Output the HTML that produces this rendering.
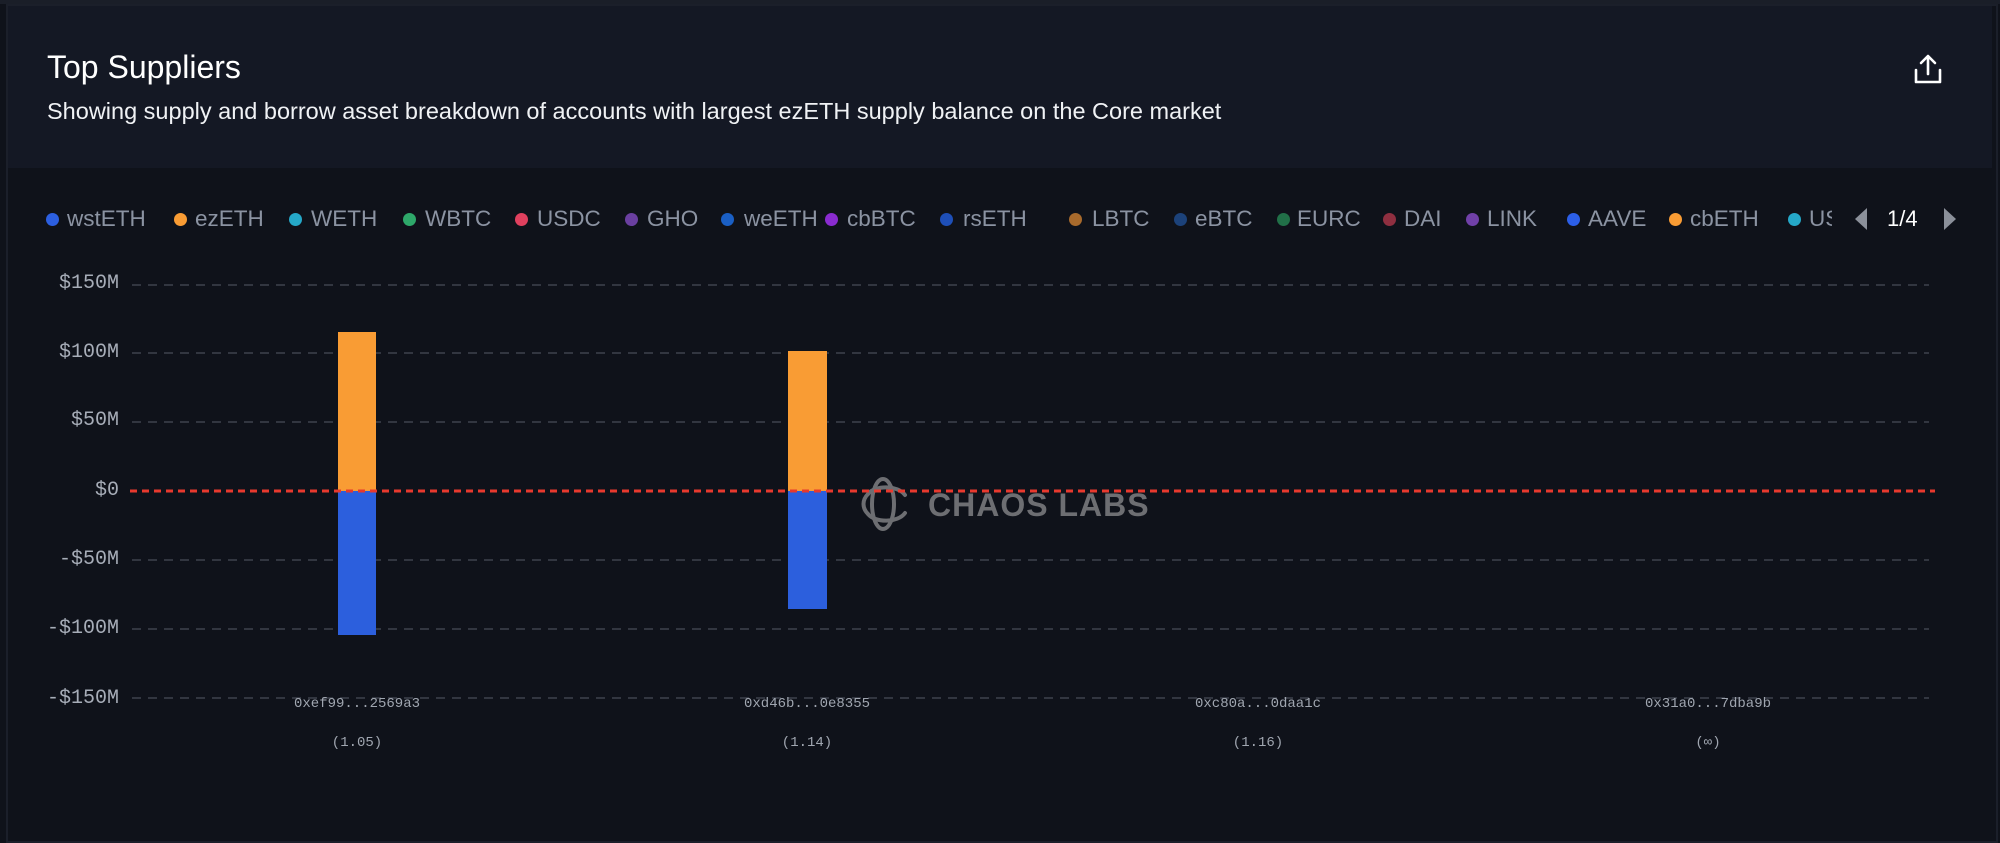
<!DOCTYPE html>
<html><head><meta charset="utf-8"><style>
html,body{margin:0;padding:0;width:2000px;height:843px;background:#0f121a;overflow:hidden;font-family:"Liberation Sans",sans-serif}
.card{position:absolute;left:6px;top:4px;width:1988px;height:835px;border:2px solid #1b1f2a;background:#0f121a}
.outer{position:absolute;left:0;top:0;width:2000px;height:4px;background:#1a1e28}
.hdr{position:absolute;left:8px;top:6px;width:1984px;height:162px;background:#141824}
.t{position:absolute;left:47px;top:49px;font-size:32px;color:#fff;font-weight:500}
.s{position:absolute;left:47px;top:98px;font-size:23.5px;color:#f0f2f5}
.lg{position:absolute;top:206px;font-size:22.5px;color:#8b93a2;white-space:nowrap}
.dot{position:absolute;top:213px;width:13px;height:13px;border-radius:50%}
.yl{position:absolute;right:1881px;font-family:"Liberation Mono",monospace;font-size:20px;color:#a7adb8;text-align:right}
.xl{position:absolute;font-family:"Liberation Mono",monospace;font-size:14px;color:#a0a6b0;transform:translateX(-50%);white-space:nowrap}
</style></head><body>
<div class="outer"></div>
<div class="card"></div>
<div class="hdr"></div>
<div class="t">Top Suppliers</div>
<div class="s">Showing supply and borrow asset breakdown of accounts with largest ezETH supply balance on the Core market</div>
<svg style="position:absolute;left:1912px;top:52px" width="32" height="34" viewBox="0 0 32 34"><path d="M16 4V22M9 11L16 4L23 11" stroke="#fff" stroke-width="2.6" fill="none" stroke-linecap="round" stroke-linejoin="round"/><path d="M4 18V30H28V18" stroke="#fff" stroke-width="2.6" fill="none" stroke-linecap="round" stroke-linejoin="round"/></svg>

<div style="position:absolute;left:0;top:190px;width:1832px;height:60px;overflow:hidden">
<div class="dot" style="left:46px;top:23px;background:#2c5fe0"></div><div class="lg" style="left:67px;top:16px">wstETH</div>
<div class="dot" style="left:174px;top:23px;background:#f99c34"></div><div class="lg" style="left:195px;top:16px">ezETH</div>
<div class="dot" style="left:289px;top:23px;background:#25a8c8"></div><div class="lg" style="left:311px;top:16px">WETH</div>
<div class="dot" style="left:403px;top:23px;background:#2ea86a"></div><div class="lg" style="left:425px;top:16px">WBTC</div>
<div class="dot" style="left:515px;top:23px;background:#e0405e"></div><div class="lg" style="left:537px;top:16px">USDC</div>
<div class="dot" style="left:625px;top:23px;background:#6a3fa0"></div><div class="lg" style="left:647px;top:16px">GHO</div>
<div class="dot" style="left:721px;top:23px;background:#1a5fc4"></div><div class="lg" style="left:744px;top:16px">weETH</div>
<div class="dot" style="left:825px;top:23px;background:#8a2bd0"></div><div class="lg" style="left:847px;top:16px">cbBTC</div>
<div class="dot" style="left:940px;top:23px;background:#1e4fb8"></div><div class="lg" style="left:963px;top:16px">rsETH</div>
<div class="dot" style="left:1069px;top:23px;background:#a86a2c"></div><div class="lg" style="left:1092px;top:16px">LBTC</div>
<div class="dot" style="left:1174px;top:23px;background:#1c427a"></div><div class="lg" style="left:1195px;top:16px">eBTC</div>
<div class="dot" style="left:1277px;top:23px;background:#217048"></div><div class="lg" style="left:1297px;top:16px">EURC</div>
<div class="dot" style="left:1383px;top:23px;background:#8f2f40"></div><div class="lg" style="left:1404px;top:16px">DAI</div>
<div class="dot" style="left:1466px;top:23px;background:#7040a8"></div><div class="lg" style="left:1487px;top:16px">LINK</div>
<div class="dot" style="left:1567px;top:23px;background:#2c5fe8"></div><div class="lg" style="left:1588px;top:16px">AAVE</div>
<div class="dot" style="left:1669px;top:23px;background:#f99c34"></div><div class="lg" style="left:1690px;top:16px">cbETH</div>
<div class="dot" style="left:1788px;top:23px;background:#25a8c8"></div><div class="lg" style="left:1809px;top:16px">US</div>
</div>
<svg style="position:absolute;left:1853px;top:207px" width="16" height="24"><path d="M14 1L2 12L14 23Z" fill="#8b909a"/></svg>
<div style="position:absolute;left:1887px;top:206px;font-size:22px;color:#fff">1/4</div>
<svg style="position:absolute;left:1942px;top:207px" width="16" height="24"><path d="M2 1L14 12L2 23Z" fill="#8b909a"/></svg>

<div class="yl" style="top:272px">$150M</div>
<div class="yl" style="top:341px">$100M</div>
<div class="yl" style="top:409px">$50M</div>
<div class="yl" style="top:479px">$0</div>
<div class="yl" style="top:548px">-$50M</div>
<div class="yl" style="top:617px">-$100M</div>
<div class="yl" style="top:687px">-$150M</div>

<svg style="position:absolute;left:0;top:0" width="2000" height="843">
<g stroke="#474c57" stroke-width="1.3" stroke-dasharray="9 7">
<line x1="132" y1="285" x2="1929" y2="285"/>
<line x1="132" y1="353" x2="1929" y2="353"/>
<line x1="132" y1="422" x2="1929" y2="422"/>
<line x1="132" y1="560" x2="1929" y2="560"/>
<line x1="132" y1="629" x2="1929" y2="629"/>
<line x1="132" y1="698" x2="1929" y2="698"/>
</g>
<rect x="338" y="332" width="38" height="159" fill="#f99c34"/>
<rect x="338" y="491" width="38" height="144" fill="#2c5fdd"/>
<rect x="788" y="351" width="39" height="140" fill="#f99c34"/>
<rect x="788" y="491" width="39" height="118" fill="#2c5fdd"/>
<g fill="none" stroke="#6d6e72" stroke-width="4" stroke-linecap="round">
<ellipse cx="883" cy="504" rx="11" ry="25"/>
<path d="M905 495C898 485 875 485 868 494M905 513C898 523 875 523 868 514"/>
<path d="M868 494C862 500 862 508 868 514"/>
</g>
<text x="928" y="516" font-family="Liberation Sans" font-weight="bold" font-size="32" fill="#6d6e72" letter-spacing="1">CHAOS LABS</text>
<line x1="130" y1="491" x2="1935" y2="491" stroke="#e8392e" stroke-width="3" stroke-dasharray="7 5"/>
</svg>

<div class="xl" style="left:357px;top:696px">0xef99...2569a3</div>
<div class="xl" style="left:357px;top:735px">(1.05)</div>
<div class="xl" style="left:807px;top:696px">0xd46b...0e8355</div>
<div class="xl" style="left:807px;top:735px">(1.14)</div>
<div class="xl" style="left:1258px;top:696px">0xc80a...0daa1c</div>
<div class="xl" style="left:1258px;top:735px">(1.16)</div>
<div class="xl" style="left:1708px;top:696px">0x31a0...7dba9b</div>
<div class="xl" style="left:1708px;top:735px">(∞)</div>
</body></html>
